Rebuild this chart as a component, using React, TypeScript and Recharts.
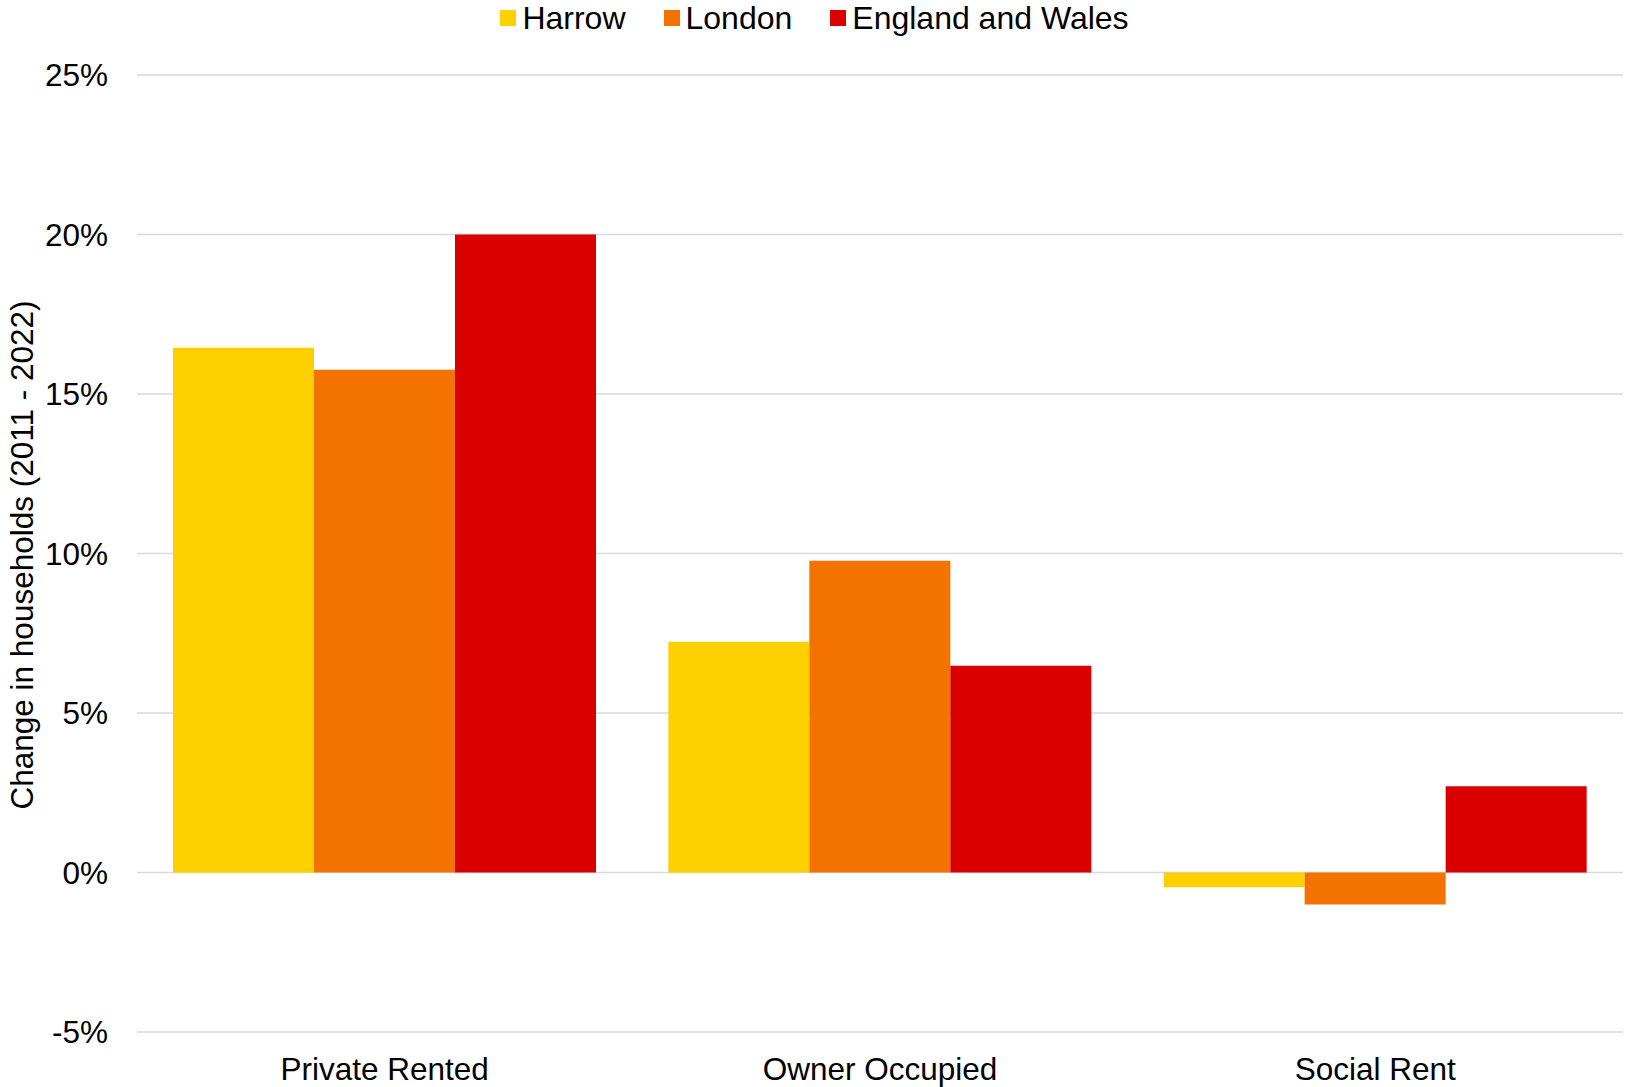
import { BarChart, Bar, XAxis, YAxis, CartesianGrid, Legend } from 'recharts';

const categories = ['Private Rented', 'Owner Occupied', 'Social Rent'];
const seriesNames = ['Harrow', 'London', 'England and Wales'];
const harrow = [16.45, 7.23, -0.46];
const london = [15.76, 9.77, -1.0];
const englandWales = [20.0, 6.48, 2.7];
const yTicks = [-5, 0, 5, 10, 15, 20, 25];

const data = categories.map((name, i) => ({
  name,
  harrow: harrow[i],
  london: london[i],
  englandWales: englandWales[i],
}));

const FONT = '"Liberation Sans", Arial, sans-serif';
const FS = 31.5;

if (typeof document !== 'undefined') document.body.style.margin = '0';

function LegendContent({ payload }: any) {
  const items = [...(payload || [])].sort(
    (a: any, b: any) => seriesNames.indexOf(a.value) - seriesNames.indexOf(b.value)
  );
  return (
    <div style={{ display: 'flex', justifyContent: 'center', alignItems: 'center', height: 36, fontFamily: FONT, fontSize: 32, color: '#000' }}>
      {items.map((p: any, i: number) => (
        <div key={p.value} style={{ display: 'flex', alignItems: 'center', marginLeft: i === 0 ? 0 : 38 }}>
          <span style={{ display: 'inline-block', width: 16, height: 16, background: p.color, marginRight: 6 }} />
          <span style={{ lineHeight: '36px' }}>{p.value}</span>
        </div>
      ))}
    </div>
  );
}

function YLabel() {
  return (
    <text
      x={22}
      y={555}
      transform="rotate(-90, 22, 555)"
      textAnchor="middle"
      dominantBaseline="central"
      fontFamily={FONT}
      fontSize={FS}
      fill="#000"
    >
      Change in households (2011 - 2022)
    </text>
  );
}

export default function App() {
  return (
    <div style={{ width: 1629, height: 1087, background: '#fff' }}>
      <BarChart
        width={1629}
        height={1087}
        data={data}
        margin={{ top: 39, right: 6, left: 0, bottom: 0 }}
        barCategoryGap={36}
        barGap={0}
      >
        <CartesianGrid vertical={false} stroke="#d9d9d9" strokeWidth={1.5} />
        <XAxis
          dataKey="name"
          height={55}
          axisLine={false}
          tickLine={false}
          tickSize={0}
          tickMargin={26}
          tick={{ fill: '#000', fontSize: FS, fontFamily: FONT }}
        />
        <YAxis
          width={137}
          domain={[-5, 25]}
          ticks={yTicks}
          tickFormatter={(v: number) => `${v}%`}
          axisLine={false}
          tickLine={false}
          tickSize={0}
          tickMargin={29}
          tick={{ fill: '#000', fontSize: FS, fontFamily: FONT }}
          label={<YLabel />}
        />
        <Legend
          verticalAlign="top"
          wrapperStyle={{ position: 'absolute', top: 0, left: 0, width: 1629, height: 36 }}
          content={<LegendContent />}
        />
        <Bar dataKey="harrow" name="Harrow" fill="#ffd000" isAnimationActive={false} />
        <Bar dataKey="london" name="London" fill="#f47300" isAnimationActive={false} />
        <Bar dataKey="englandWales" name="England and Wales" fill="#db0000" isAnimationActive={false} />
      </BarChart>
    </div>
  );
}
